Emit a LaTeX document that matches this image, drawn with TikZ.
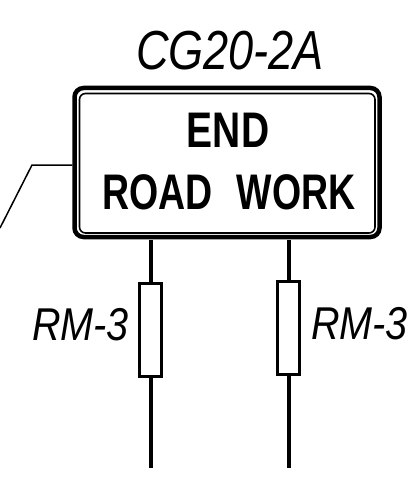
\documentclass[tikz,border=0pt]{standalone}
\usepackage{fontspec}
\setmainfont{Liberation Sans}
\newfontfamily\signfont[FakeStretch=0.75]{Liberation Sans}
\newfontfamily\endfont[FakeStretch=0.78]{Liberation Sans}
\newfontfamily\codefont[FakeStretch=0.82]{Liberation Sans}
\newfontfamily\postfont[FakeStretch=0.86]{Liberation Sans}
\tikzset{
  signline/.style={draw=black,line width=4.5pt,rounded corners=9pt},
  signinner/.style={draw=black,line width=1.6pt,rounded corners=6pt},
  postline/.style={draw=black,line width=3.8pt},
  panel/.style={draw=black,line width=3.4pt,fill=white,minimum width=22pt,minimum height=93pt,inner sep=0pt},
  leader/.style={draw=black,line width=1.5pt},
  codelabel/.style={font=\codefont\fontsize{55}{55}\selectfont\itshape,inner sep=0pt},
  postlabel/.style={font=\postfont\fontsize{46}{46}\selectfont\itshape,inner sep=0pt},
  signtext/.style={font=\signfont\fontsize{50}{50}\selectfont\bfseries,inner sep=0pt},
  endtext/.style={font=\endfont\fontsize{50}{50}\selectfont\bfseries,inner sep=0pt}
}
\begin{document}
\begin{tikzpicture}[x=1pt,y=-1pt]
\useasboundingbox (0,0) rectangle (417,492);
\draw[white,fill=white] (0,0) rectangle (417,492);
\coordinate (ltop) at (151,240);
\coordinate (rtop) at (289,240);
\coordinate (lbot) at (151,468);
\coordinate (rbot) at (289,468);
\node[panel] (lp) at (150.5,330) {};
\node[panel] (rp) at (288.5,328) {};
\draw[postline] (ltop) -- (ltop |- lp.north);
\draw[postline] (ltop |- lp.south) -- (lbot);
\draw[postline] (rtop) -- (rtop |- rp.north);
\draw[postline] (rtop |- rp.south) -- (rbot);
\node[signline,minimum width=305pt,minimum height=149pt,inner sep=0pt] (signo) at (227,162.5) {};
\node[signinner,minimum width=295.5pt,minimum height=139.5pt,inner sep=0pt] (signi) at (227.25,163.25) {};
\coordinate (lfree) at (0,228);
\coordinate (lbend) at (32,165);
\draw[leader] (signo.west |- lbend) -- (lbend) -- (lfree);
\node[codelabel] (code) at (230,51) {CG20-2A};
\node[endtext] (end) at (228,130) {END};
\node[signtext] (road) at (229,192) {ROAD\hspace{24pt}WORK};
\node[postlabel,anchor=east] (rml) at (129,325) {RM-3};
\node[postlabel,anchor=west] (rmr) at (311,323.5) {RM-3};
\end{tikzpicture}
\end{document}
